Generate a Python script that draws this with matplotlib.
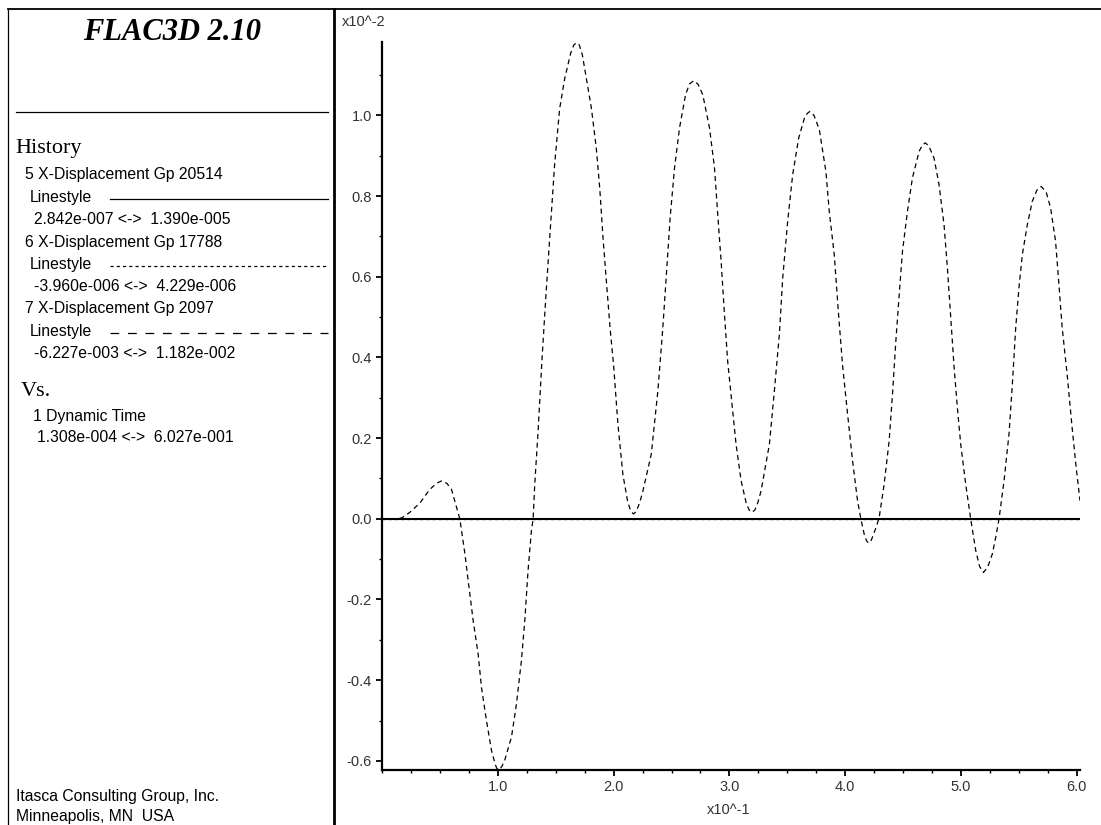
import matplotlib
matplotlib.use('Agg')
import matplotlib.pyplot as plt
from matplotlib.lines import Line2D
from matplotlib.ticker import FixedLocator, MultipleLocator

# ---- data (time in x10^-1 s, displacement in x10^-2 m) ----
# hist 5 and 6 are ~1e-5 m -> flat at zero on this scale
hist5_t = [0.0013, 6.027]
hist5_y = [0.0, 0.0]
hist6_t = [0.0013, 6.027]
hist6_y = [0.0, 0.0]

# hist 7, X-displacement Gp 2097
hist7_t = [0.0013, 0.10, 0.17, 0.24, 0.33, 0.41, 0.47, 0.515, 0.56, 0.60,
           0.644, 0.672, 0.716, 0.744, 0.787, 0.830, 0.859, 0.902, 0.945, 0.975,
           0.990, 1.003, 1.018, 1.035, 1.06, 1.118, 1.161, 1.204, 1.233, 1.261,
           1.290, 1.305, 1.319, 1.348, 1.382, 1.414, 1.448, 1.491, 1.534, 1.578,
           1.630, 1.657, 1.680, 1.703, 1.730, 1.764, 1.808, 1.850, 1.880, 1.910,
           1.940, 1.970, 2.000, 2.037, 2.080, 2.123, 2.150, 2.172, 2.195, 2.225,
           2.253, 2.325, 2.382, 2.425, 2.454, 2.489, 2.526, 2.569, 2.621, 2.655,
           2.692, 2.730, 2.770, 2.828, 2.871, 2.900, 2.928, 2.957, 2.985, 3.028,
           3.057, 3.101, 3.144, 3.170, 3.195, 3.220, 3.245, 3.273, 3.345, 3.388,
           3.431, 3.460, 3.503, 3.546, 3.598, 3.647, 3.672, 3.695, 3.730, 3.776,
           3.833, 3.862, 3.905, 3.940, 3.977, 4.020, 4.063, 4.106, 4.135, 4.165,
           4.185, 4.201, 4.220, 4.240, 4.265, 4.293, 4.336, 4.379, 4.408, 4.437,
           4.466, 4.494, 4.537, 4.580, 4.638, 4.665, 4.690, 4.720, 4.767, 4.810,
           4.853, 4.882, 4.911, 4.940, 4.968, 4.997, 5.040, 5.083, 5.127, 5.160,
           5.193, 5.230, 5.270, 5.300, 5.328, 5.371, 5.414, 5.443, 5.472, 5.500,
           5.529, 5.572, 5.615, 5.655, 5.692, 5.735, 5.773, 5.816, 5.845, 5.873,
           5.916, 5.959, 5.994, 6.027]
hist7_y = [0.0, 0.0, 0.002, 0.016, 0.040, 0.072, 0.088, 0.094, 0.088, 0.073,
           0.028, 0.0, -0.087, -0.153, -0.252, -0.335, -0.418, -0.500, -0.574, -0.606,
           -0.618, -0.622, -0.620, -0.614, -0.598, -0.541, -0.459, -0.351, -0.252, -0.129,
           -0.030, 0.0, 0.086, 0.218, 0.398, 0.547, 0.696, 0.880, 1.017, 1.092,
           1.155, 1.175, 1.180, 1.175, 1.150, 1.092, 1.018, 0.920, 0.820, 0.690,
           0.580, 0.470, 0.380, 0.235, 0.110, 0.040, 0.018, 0.012, 0.018, 0.040,
           0.069, 0.160, 0.317, 0.474, 0.600, 0.750, 0.870, 0.969, 1.051, 1.078,
           1.086, 1.077, 1.051, 0.969, 0.870, 0.750, 0.639, 0.507, 0.390, 0.267,
           0.185, 0.094, 0.040, 0.022, 0.016, 0.022, 0.040, 0.069, 0.185, 0.317,
           0.457, 0.597, 0.738, 0.853, 0.944, 0.993, 1.005, 1.010, 1.000, 0.965,
           0.861, 0.762, 0.655, 0.515, 0.380, 0.260, 0.144, 0.045, 0.0, -0.040,
           -0.055, -0.060, -0.056, -0.042, -0.022, 0.003, 0.086, 0.193, 0.309, 0.441,
           0.556, 0.663, 0.762, 0.845, 0.911, 0.926, 0.932, 0.925, 0.894, 0.828,
           0.729, 0.622, 0.498, 0.375, 0.276, 0.185, 0.086, 0.0, -0.079, -0.118,
           -0.133, -0.120, -0.087, -0.045, 0.0, 0.094, 0.210, 0.334, 0.474, 0.573,
           0.655, 0.729, 0.787, 0.815, 0.824, 0.810, 0.771, 0.688, 0.581, 0.474,
           0.358, 0.226, 0.127, 0.045]

x_ticks = [1.0, 2.0, 3.0, 4.0, 5.0, 6.0]
y_ticks = [-0.6, -0.4, -0.2, 0.0, 0.2, 0.4, 0.6, 0.8, 1.0]
y_minor = [-0.5, -0.3, -0.1, 0.1, 0.3, 0.5, 0.7, 0.9, 1.1]

legend_lines = [
    ('5 X-Displacement Gp 20514', '2.842e-007 <->  1.390e-005', '-'),
    ('6 X-Displacement Gp 17788', '-3.960e-006 <->  4.229e-006', (0, (2.5, 2.5))),
    ('7 X-Displacement Gp 2097', '-6.227e-003 <->  1.182e-002', (0, (7, 7))),
]

W, H = 1101, 825
fig = plt.figure(figsize=(W / 100, H / 100), dpi=100)
fig.patch.set_facecolor('white')

# background axes in pixel coords for the info panel
bg = fig.add_axes([0, 0, 1, 1])
bg.set_xlim(0, W)
bg.set_ylim(H, 0)
bg.axis('off')

sans = 'Liberation Sans'
serif = 'Liberation Serif'

bg.add_line(Line2D([8, W], [9, 9], color='black', lw=1.3))
bg.add_line(Line2D([8, 8], [9, H], color='black', lw=0.9))
bg.add_line(Line2D([334, 334], [9, H], color='black', lw=2.0))
bg.add_line(Line2D([16, 328], [112, 112], color='black', lw=0.9))

bg.text(172, 33, 'FLAC3D 2.10', family=serif, fontsize=22, fontweight='bold',
        fontstyle='italic', ha='center', va='center')
bg.text(15, 148, 'History', family=serif, fontsize=16, ha='left', va='center')

y = 175
for name, rng, ls in legend_lines:
    bg.text(25, y, name, family=sans, fontsize=11.3, ha='left', va='center')
    bg.text(30, y + 22.3, 'Linestyle', family=sans, fontsize=11.3, ha='left', va='center')
    bg.add_line(Line2D([110, 328], [y + 23.5, y + 23.5], color='black', lw=0.9, linestyle=ls))
    bg.text(34, y + 44.6, rng, family=sans, fontsize=11.3, ha='left', va='center')
    y += 67

bg.text(21, 392, 'Vs.', family=serif, fontsize=16, ha='left', va='center')
bg.text(33, 416, '1 Dynamic Time', family=sans, fontsize=11.3, ha='left', va='center')
bg.text(37, 437, '1.308e-004 <->  6.027e-001', family=sans, fontsize=11.3, ha='left', va='center')

bg.text(16, 796, 'Itasca Consulting Group, Inc.', family=sans, fontsize=11.3, ha='left', va='center')
bg.text(16, 816, 'Minneapolis, MN  USA', family=sans, fontsize=11.3, ha='left', va='center')

bg.text(342, 22, 'x10^-2', family=sans, fontsize=10.5, color='#333333', ha='left', va='center')
bg.text(729, 810, 'x10^-1', family=sans, fontsize=10.5, color='#333333', ha='center', va='center')

# ---- history plot ----
ax_l, ax_r, ax_t, ax_b = 382, 1080, 42, 770
ax = fig.add_axes([ax_l / W, 1 - ax_b / H, (ax_r - ax_l) / W, (ax_b - ax_t) / H])
ax.set_facecolor('none')
ax.plot(hist5_t, hist5_y, color='black', lw=1.5, solid_capstyle='butt')
ax.plot(hist6_t, hist6_y, color='black', lw=0.9, linestyle=(0, (2.5, 2.5)))
ax.plot(hist7_t, hist7_y, color='black', lw=0.9, linestyle=(0, (4, 3)))

ax.set_xlim(0, 6.027)
ax.set_ylim(-0.6227, 1.182)
for s in ['top', 'right']:
    ax.spines[s].set_visible(False)
for s in ['left', 'bottom']:
    ax.spines[s].set_linewidth(1.6)

ax.set_xticks(x_ticks)
ax.set_xticklabels(['%.1f' % v for v in x_ticks])
ax.set_yticks(y_ticks)
ax.set_yticklabels(['%.1f' % v for v in y_ticks])
ax.xaxis.set_minor_locator(MultipleLocator(0.25))
ax.yaxis.set_minor_locator(FixedLocator(y_minor))
ax.tick_params(which='major', direction='out', length=4.3, width=1.3,
               labelsize=10.5, labelcolor='#333333', pad=3)
ax.tick_params(which='minor', direction='out', length=2, width=1.0)
for lab in ax.get_xticklabels() + ax.get_yticklabels():
    lab.set_family(sans)

fig.savefig('out.png', dpi=100)
